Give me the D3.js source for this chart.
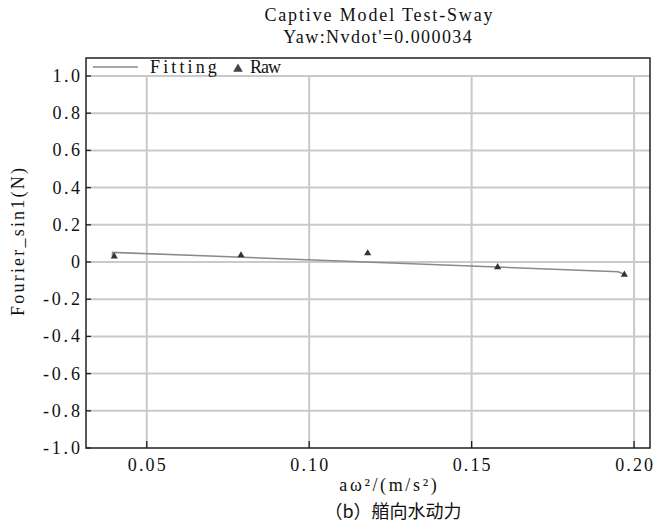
<!DOCTYPE html>
<html><head><meta charset="utf-8">
<script src="https://cdn.jsdelivr.net/npm/d3@7"></script>
<style>body{margin:0;background:#fff}</style>
</head><body>
<script>
const rawX = [0.040, 0.079, 0.118, 0.158, 0.197];
const rawY = [0.030, 0.036, 0.047, -0.028, -0.068];
const fitX = [0.0394, 0.0395, 0.1951, 0.1975];
const fitY = [0.035, 0.052, -0.052, -0.068];
const xTicks = [0.05, 0.10, 0.15, 0.20];
const xTickLabels = ["0.05", "0.10", "0.15", "0.20"];
const yTicks = [1.0, 0.8, 0.6, 0.4, 0.2, 0, -0.2, -0.4, -0.6, -0.8, -1.0];
const yTickLabels = ["1.0", "0.8", "0.6", "0.4", "0.2", "0", "-0.2", "-0.4", "-0.6", "-0.8", "-1.0"];
const title1 = "Captive Model Test-Sway";
const title2 = "Yaw:Nvdot'=0.000034";
const xLabel = "aω²/(m/s²)";
const yLabel = "Fourier_sin1(N)";
const caption = "（b）艏向水动力";
const legendNames = ["Fitting", "Raw"];

const W = 667, H = 526;
const left = 86, right = 650, frameTop = 58, bottom = 448;
const x = d3.scaleLinear().domain([0.0313, 0.2049]).range([left, right]);
const y = d3.scaleLinear().domain([-1, 1]).range([448, 76]);

const svg = d3.select("body").append("svg").attr("width", W).attr("height", H);
const FONT = "Liberation Serif, Times New Roman, Tinos, DejaVu Serif, serif";
const FS = 18;
const CW = 10;
function mono(sel, cw) {
  sel.each(function () {
    const n = this.textContent.length;
    if (n < 2) return;
    const nat = this.getComputedTextLength();
    const ls = (n * cw - nat) / n;
    d3.select(this).style("letter-spacing", ls + "px");
    const anchor = this.getAttribute("text-anchor");
    if (anchor === "middle") d3.select(this).attr("dx", ls / 2);
    else if (anchor === "end") d3.select(this).attr("dx", ls);
  });
  return sel;
}

// grid
svg.append("g").selectAll("line").data(yTicks.filter(d => d > -1)).join("line")
  .attr("x1", left).attr("x2", right).attr("y1", d => y(d)).attr("y2", d => y(d))
  .attr("stroke", "#c9c9c9").attr("stroke-width", 2);
svg.append("g").selectAll("line").data(xTicks).join("line")
  .attr("x1", d => x(d)).attr("x2", d => x(d)).attr("y1", y(1)).attr("y2", bottom)
  .attr("stroke", "#c9c9c9").attr("stroke-width", 2);

// frame
svg.append("rect").attr("x", left).attr("y", frameTop).attr("width", right - left).attr("height", bottom - frameTop)
  .attr("fill", "none").attr("stroke", "#222").attr("stroke-width", 1.5);

// ticks (inside)
svg.append("g").selectAll("line").data(yTicks).join("line")
  .attr("x1", left).attr("x2", left + 5).attr("y1", d => y(d)).attr("y2", d => y(d))
  .attr("stroke", "#222").attr("stroke-width", 1.3);
svg.append("g").selectAll("line").data(xTicks).join("line")
  .attr("x1", d => x(d)).attr("x2", d => x(d)).attr("y1", bottom).attr("y2", bottom - 7)
  .attr("stroke", "#222").attr("stroke-width", 1.3);

// tick labels
mono(svg.append("g").selectAll("text").data(yTicks).join("text")
  .attr("x", 80).attr("y", d => y(d) + 6).attr("text-anchor", "end")
  .attr("font-family", FONT).attr("font-size", FS).attr("fill", "#111")
  .text((d, i) => yTickLabels[i]), CW);
mono(svg.append("g").selectAll("text").data(xTicks).join("text")
  .attr("x", d => x(d)).attr("y", 471).attr("text-anchor", "middle")
  .attr("font-family", FONT).attr("font-size", FS).attr("fill", "#111")
  .text((d, i) => xTickLabels[i]), CW);

// fitting line
const fitData = fitX.map((v, i) => [v, fitY[i]]);
svg.append("path").datum(fitData)
  .attr("d", d3.line().x(d => x(d[0])).y(d => y(d[1])))
  .attr("fill", "none").attr("stroke", "#8a8a8a").attr("stroke-width", 1.6);

// raw triangles
const tri = d3.symbol().type(d3.symbolTriangle).size(22);
svg.append("g").selectAll("path").data(rawX.map((v, i) => [v, rawY[i]])).join("path")
  .attr("transform", d => `translate(${x(d[0])},${y(d[1])})`)
  .attr("d", tri).attr("fill", "#333");

// legend
svg.append("line").attr("x1", 93).attr("x2", 138).attr("y1", 67).attr("y2", 67)
  .attr("stroke", "#8a8a8a").attr("stroke-width", 1.6);
mono(svg.append("text").attr("x", 150).attr("y", 73).attr("font-family", FONT).attr("font-size", FS)
  .attr("fill", "#111").text(legendNames[0]), CW);
svg.append("path").attr("transform", "translate(238,69)").attr("d", d3.symbol().type(d3.symbolTriangle).size(40)).attr("fill", "#444");
mono(svg.append("text").attr("x", 250).attr("y", 73).attr("font-family", FONT).attr("font-size", FS)
  .attr("fill", "#111").text(legendNames[1]), CW);

// titles
mono(svg.append("text").attr("x", 378.5).attr("y", 21).attr("text-anchor", "middle")
  .attr("font-family", FONT).attr("font-size", FS).attr("fill", "#111").text(title1), CW);
mono(svg.append("text").attr("x", 377.5).attr("y", 43).attr("text-anchor", "middle")
  .attr("font-family", FONT).attr("font-size", FS).attr("fill", "#111").text(title2), CW);

// axis labels
mono(svg.append("text").attr("x", 388).attr("y", 491).attr("text-anchor", "middle")
  .attr("font-family", FONT).attr("font-size", FS).attr("fill", "#111").text(xLabel), CW);
mono(svg.append("text").attr("transform", "translate(24,242) rotate(-90)").attr("text-anchor", "middle")
  .attr("font-family", FONT).attr("font-size", FS).attr("fill", "#111").text(yLabel), CW);

// caption
svg.append("text").attr("x", 393).attr("y", 518).attr("text-anchor", "middle")
  .attr("font-family", "'Noto Sans CJK SC', sans-serif").attr("font-size", 18).attr("fill", "#111").text(caption);
</script>
</body></html>
